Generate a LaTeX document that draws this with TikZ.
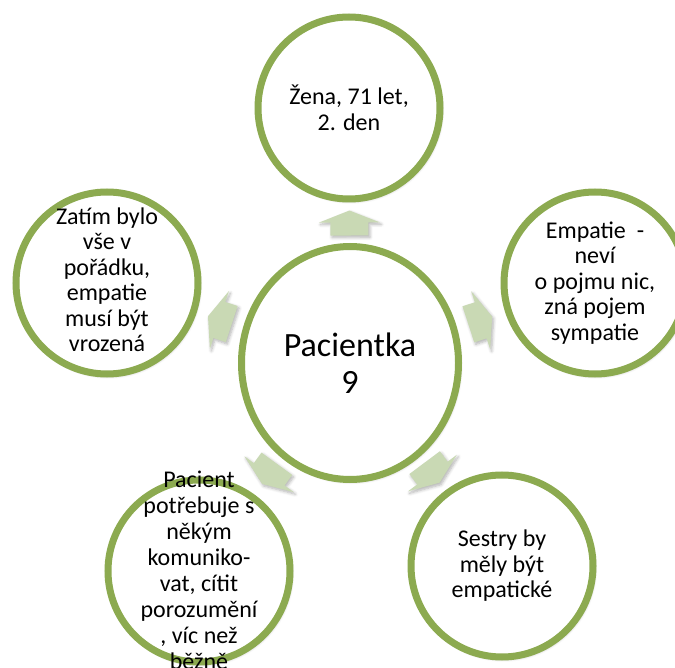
\documentclass[tikz,border=0pt]{standalone}
\usepackage{fontspec}
\setmainfont{Carlito}
\usetikzlibrary{shapes.geometric,calc,shadows.blur}
\definecolor{ringgreen}{HTML}{8CAA50}
\definecolor{arrowfill}{HTML}{C9D9B4}
\pgfdeclarelayer{bg}
\pgfsetlayers{bg,main}
\begin{document}
\begin{tikzpicture}[x=1pt,y=1pt,
  softshadow/.style={blur shadow={shadow xshift=1.5pt, shadow yshift=-2pt, shadow opacity=30, shadow blur steps=6, shadow blur radius=3pt}},
  ring/.style={circle, draw=ringgreen, line width=7pt, fill=white, minimum size=182pt, inner sep=0pt, softshadow},
  hub/.style={ellipse, draw=ringgreen, line width=7pt, fill=white, minimum width=217pt, minimum height=233pt, inner sep=0pt, softshadow},
  txt/.style={align=center, font=\fontsize{24}{25.5}\selectfont, inner sep=0pt},
  bigtxt/.style={align=center, font=\fontsize{34}{37}\selectfont, inner sep=0pt},
  blockarrow/.style={fill=arrowfill, draw=none, softshadow}]
\useasboundingbox (0,0) rectangle (675,-668);
\node[hub]  (c0) at (350,-363) {};
\node[ring] (c1) at (349,-108) {};
\node[ring] (c2) at (595,-283) {};
\node[ring] (c3) at (502,-566) {};
\node[ring] (c4) at (199,-571) {};
\node[ring] (c5) at (107,-283) {};
\begin{pgfonlayer}{bg}
\foreach \i/\d/\ang in {1/140/90.2,2/137/18.1,3/137/-53.2,4/137/-126,5/137/161.8}{
  \coordinate (a\i) at ($(c0)!\d pt!(c\i)$);
  \begin{scope}[shift={(a\i)}, rotate=\ang]
    \path[blockarrow] (-12.5,-19) -- (0.5,-19) -- (0.5,-30.5) -- (12.5,0)
      -- (0.5,30.5) -- (0.5,19) -- (-12.5,19) -- cycle;
  \end{scope}
}
\end{pgfonlayer}
\node[bigtxt] (t0) at (c0) {Pacientka\\9};
\node[txt] (t1) at (c1) {Žena, 71 let,\\2. den};
\node[txt] (t2) at (c2) {Empatie~~-\\neví\\o pojmu nic,\\zná pojem\\sympatie};
\node[txt] (t3) at (c3) {Sestry by\\měly být\\empatické};
\node[txt, font=\fontsize{24}{26}\selectfont] (t4) at ([yshift=1pt]c4) {Pacient\\potřebuje s\\někým\\komuniko-\\vat, cítit\\porozumění\\, víc než\\běžně};
\node[txt] (t5) at ([yshift=3pt]c5) {Zatím bylo\\vše v\\pořádku,\\empatie\\musí být\\vrozená};
\end{tikzpicture}
\end{document}
